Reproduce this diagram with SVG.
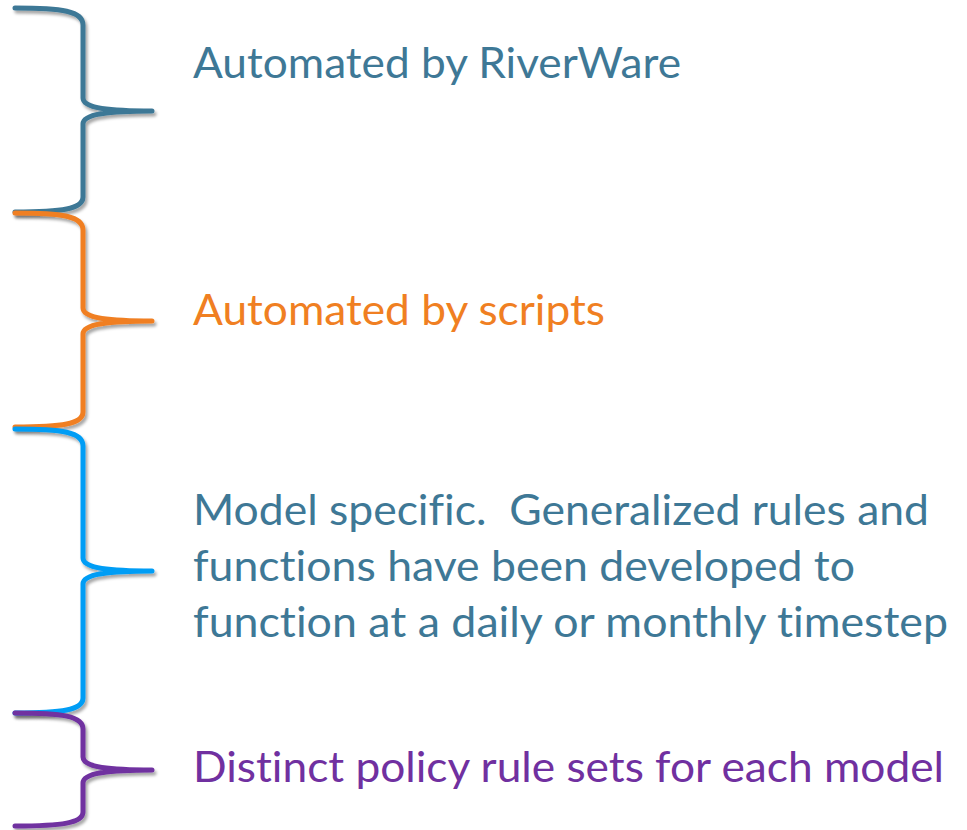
<svg xmlns="http://www.w3.org/2000/svg" width="967" height="830" viewBox="0 0 967 830">
  <defs>
    <filter id="shadow" x="-20%" y="-5%" width="140%" height="110%">
      <feDropShadow dx="2" dy="3" stdDeviation="1.6" flood-color="#000" flood-opacity="0.35"/>
    </filter>
  </defs>
  <style>
    .brace { fill: none; stroke-width: 5; stroke-linecap: round; stroke-linejoin: round; filter: url(#shadow); }
    .label { font-family: Lato, "Open Sans", "Liberation Sans", sans-serif; font-size: 42px; font-variant-ligatures: none; font-feature-settings: "liga" 0, "clig" 0; white-space: pre; }
    .teal { fill: #3E7896; }
    .orange { fill: #F07F22; }
    .purple { fill: #7030A0; }
  </style>
  <rect width="967" height="830" fill="#ffffff"/>

  <g id="group-riverware">
    <path class="brace" stroke="#3E7896" d="M15,8 C62,8 83,11 83,25 L83,98 C83,108 108,111 152,111 C108,111 83,114 83,124 L83,197 C83,209 62,212 15,212"/>
    <text class="label teal" x="193" y="78" textLength="488" lengthAdjust="spacingAndGlyphs">Automated by RiverWare</text>
  </g>

  <g id="group-scripts">
    <path class="brace" stroke="#F07F22" d="M15,213 C62,213 83,216 83,230 L83,308 C83,318 108,321 152,321 C108,321 83,324 83,334 L83,412 C83,424 62,427 15,427"/>
    <text class="label orange" x="193" y="325" textLength="412" lengthAdjust="spacingAndGlyphs">Automated by scripts</text>
  </g>

  <g id="group-model">
    <path class="brace" stroke="#009DF5" d="M15,429 C62,429 83,432 83,446 L83,558 C83,568 108,571 152,571 C108,571 83,574 83,584 L83,698 C83,710 62,713 15,713"/>
    <text class="label teal" x="193" y="525" textLength="736" lengthAdjust="spacingAndGlyphs" xml:space="preserve">Model specific.  Generalized rules and</text>
    <text class="label teal" x="193" y="581" textLength="662" lengthAdjust="spacingAndGlyphs">functions have been developed to</text>
    <text class="label teal" x="193" y="637" textLength="755" lengthAdjust="spacingAndGlyphs">function at a daily or monthly timestep</text>
  </g>

  <g id="group-policy">
    <path class="brace" stroke="#7030A0" d="M15,713 C62,713 83,716 83,729 L83,757 C83,767 108,770 152,770 C108,770 83,773 83,783 L83,812 C83,823 62,826 15,826"/>
    <text class="label purple" x="193" y="782" textLength="751" lengthAdjust="spacingAndGlyphs">Distinct policy rule sets for each model</text>
  </g>
</svg>
